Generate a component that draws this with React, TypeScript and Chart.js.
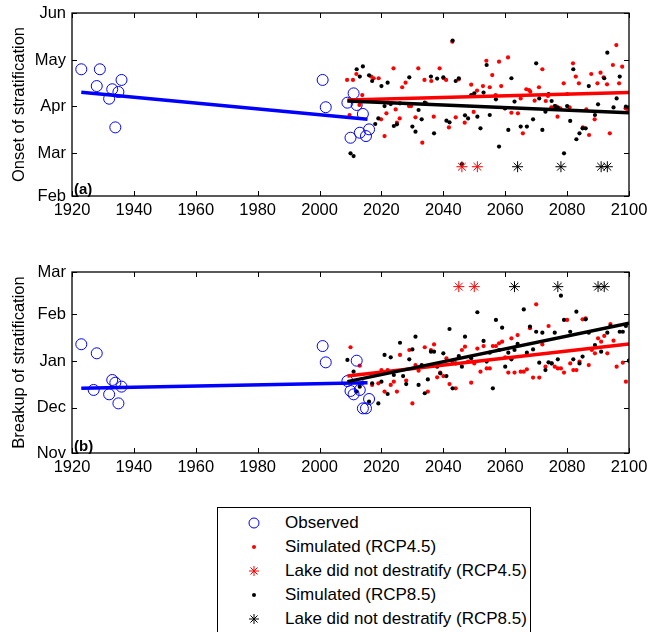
import React, { useEffect, useRef } from "react";
import { Chart, registerables } from "chart.js";
Chart.register(...registerables);

const FONT = '"Liberation Sans", Arial, Helvetica, sans-serif';

// ---------- DATA ----------
const xTicks = [1920, 1940, 1960, 1980, 2000, 2020, 2040, 2060, 2080, 2100];

// Panel (a): onset, day of year
const onsetTicks = [32, 60, 91, 121, 152];
const onsetLabels = ["Feb", "Mar", "Apr", "May", "Jun"];

const onsetObserved: [number, number][] = [
  [1923, 115.1], [1928, 104.1], [1929, 115.1], [1932, 95.8], [1933, 102.0], [1934, 77.0],
  [1935, 100.2], [1936, 108.1], [2001, 108.1], [2002, 90.2], [2009, 93.2], [2010, 70.2],
  [2011, 99.3], [2012, 91.7], [2013, 73.5], [2014, 85.8], [2015, 71.3], [2016, 75.7],
];

const onsetRcp45: [number, number][] = [
  [2008.9, 108.1], [2010.8, 108.1], [2011.9, 112.0], [2009.7, 85.1], [2012.9, 91.7], [2013.8, 98.2],
  [2016.7, 110.3], [2017.5, 109.2], [2019.1, 109.2], [2019.9, 82.3], [2021.0, 71.3], [2021.6, 86.2],
  [2022.1, 93.2], [2023.9, 115.7], [2024.6, 88.8], [2025.0, 80.1], [2025.9, 82.9], [2026.7, 103.3],
  [2027.8, 106.3], [2028.9, 91.0], [2029.6, 91.0], [2031.0, 83.6], [2031.9, 115.7], [2033.2, 67.0],
  [2033.9, 108.1], [2034.5, 92.8], [2036.1, 107.4], [2036.9, 84.0], [2038.8, 115.7], [2040.1, 109.2],
  [2040.9, 108.1], [2041.8, 77.0], [2042.9, 133.2], [2044.0, 83.6], [2045.0, 108.5], [2046.9, 80.1],
  [2049.0, 105.0], [2049.8, 87.1], [2050.9, 101.1], [2052.8, 104.1], [2053.9, 120.7], [2055.0, 103.3],
  [2055.8, 111.3], [2056.9, 98.2], [2058.0, 120.1], [2058.7, 104.1], [2059.8, 89.5], [2060.9, 122.9],
  [2062.0, 86.6], [2064.1, 86.2], [2065.0, 96.0], [2065.7, 73.1], [2066.8, 102.0], [2067.7, 101.5],
  [2068.1, 100.4], [2069.5, 94.5], [2070.9, 103.3], [2072.0, 115.1], [2073.1, 94.3], [2073.8, 97.6],
  [2074.9, 90.1], [2076.3, 91.0], [2076.9, 84.0], [2077.8, 89.5], [2078.9, 105.9], [2080.0, 98.9],
  [2080.8, 90.1], [2081.9, 119.0], [2082.8, 110.3], [2083.8, 105.9], [2085.1, 77.0], [2086.2, 88.8],
  [2087.1, 72.0], [2087.8, 112.0], [2088.9, 82.3], [2089.8, 105.9], [2090.8, 112.9], [2091.8, 109.8],
  [2092.9, 105.2], [2093.8, 73.1], [2094.8, 117.9], [2095.9, 131.0], [2096.8, 105.9], [2097.8, 116.8],
  [2098.9, 89.5], [2099.7, 88.4],
];

const onsetRcp85: [number, number][] = [
  [2010, 60.0], [2011, 58.2], [2012, 115.1], [2013, 110.3], [2014, 117.0], [2016, 111.1], [2017, 107.4],
  [2018, 79.2], [2019, 82.9], [2020, 104.1], [2021, 91.0], [2022, 106.3], [2023, 92.3], [2024, 77.9],
  [2025, 79.0], [2026, 92.8], [2029, 109.8], [2030, 77.5], [2031, 74.2], [2032, 88.4], [2033, 82.3],
  [2034, 93.2], [2036, 110.3], [2037, 73.1], [2038, 109.0], [2040, 109.8], [2041, 81.4], [2042, 80.3],
  [2043, 133.9], [2044, 107.4], [2045, 109.2], [2046, 53.0], [2047, 84.9], [2048, 82.9], [2049, 98.2],
  [2050, 99.3], [2051, 84.0], [2052, 76.4], [2053, 99.8], [2054, 117.9], [2055, 85.1], [2057, 95.4],
  [2058, 64.4], [2060, 89.5], [2061, 75.3], [2062, 109.2], [2063, 93.9], [2065, 77.5], [2067, 77.5],
  [2069, 82.3], [2070, 119.0], [2071, 96.0], [2072, 75.3], [2073, 87.3], [2074, 98.9], [2075, 94.3],
  [2076, 91.0], [2077, 90.1], [2079, 60.0], [2080, 91.0], [2081, 81.2], [2082, 115.1], [2083, 69.2],
  [2084, 73.1], [2085, 76.4], [2086, 76.4], [2087, 104.1], [2089, 85.1], [2090, 92.1], [2092, 109.2],
  [2093, 126.0], [2095, 90.1], [2096, 96.0], [2097, 110.3], [2099, 90.6], [2100, 90.1],
];

const onsetNoDestrat45Years = [2046, 2051];
const onsetNoDestrat85Years = [2064, 2078, 2091, 2093];
const onsetNoDestratLevel = 51.2;

const onsetTrendObserved: [number, number][] = [[1923, 100.0], [2015.5, 82.3]];
const onsetTrendRcp45: [number, number][] = [[2009, 95.0], [2100, 99.8]];
const onsetTrendRcp85: [number, number][] = [[2009, 94.3], [2100, 86.6]];

// Panel (b): breakup, days since 1 Nov
const breakupTicks = [0, 30, 61, 92, 120];
const breakupLabels = ["Nov", "Dec", "Jan", "Feb", "Mar"];

const breakupObserved: [number, number][] = [
  [1923, 72.1], [1927, 41.8], [1928, 66.1], [1932, 38.9], [1933, 48.4], [1934, 46.6],
  [1935, 32.9], [1936, 44.0], [2001, 70.9], [2002, 60.1], [2009, 47.7], [2010, 41.1],
  [2011, 38.9], [2012, 61.2], [2013, 41.8], [2014, 29.6], [2015, 29.6], [2016, 35.8],
];

const breakupRcp45: [number, number][] = [
  [2010, 70.1], [2013, 57.9], [2017, 45.1], [2019, 46.2], [2020, 55.0], [2021, 40.7], [2022, 55.0],
  [2023, 45.1], [2024, 47.3], [2025, 40.7], [2026, 65.0], [2028, 48.0], [2029, 68.3], [2030, 32.9],
  [2031, 58.3], [2032, 54.6], [2034, 70.1], [2035, 40.7], [2036, 68.3], [2037, 72.0], [2038, 50.2],
  [2039, 53.3], [2040, 51.0], [2041, 62.8], [2042, 45.7], [2043, 59.9], [2044, 42.9], [2045, 63.4],
  [2046, 68.3], [2047, 70.5], [2048, 60.6], [2049, 46.6], [2050, 59.4], [2051, 69.2], [2052, 53.9],
  [2053, 70.9], [2054, 56.1], [2055, 56.1], [2056, 70.9], [2057, 70.9], [2058, 72.7], [2059, 73.8],
  [2060, 63.4], [2061, 53.3], [2062, 76.0], [2063, 53.3], [2064, 78.2], [2065, 53.9], [2066, 53.9],
  [2067, 55.5], [2068, 82.7], [2069, 50.0], [2070, 98.6], [2071, 50.0], [2072, 72.0], [2073, 57.2],
  [2074, 84.2], [2075, 59.4], [2076, 57.2], [2077, 56.1], [2078, 56.1], [2079, 53.3], [2080, 88.2],
  [2081, 59.4], [2082, 55.0], [2083, 55.0], [2084, 60.6], [2085, 88.6], [2086, 89.3], [2087, 58.3],
  [2088, 68.3], [2089, 66.1], [2090, 76.0], [2091, 73.8], [2092, 77.6], [2093, 66.1], [2094, 85.5],
  [2095, 74.5], [2096, 57.2], [2098, 59.9], [2099, 47.3], [2100, 61.2],
];

const breakupRcp85: [number, number][] = [
  [2009, 61.7], [2011, 53.9], [2012, 40.7], [2013, 44.0], [2014, 46.6], [2016, 34.0], [2017, 46.2],
  [2019, 32.9], [2020, 47.3], [2021, 65.0], [2022, 39.1], [2023, 63.4], [2024, 51.7], [2026, 73.1],
  [2027, 51.0], [2028, 45.7], [2029, 62.1], [2030, 68.7], [2031, 77.1], [2032, 45.1], [2033, 58.3],
  [2034, 39.6], [2035, 48.8], [2036, 67.2], [2037, 67.2], [2038, 57.2], [2039, 52.8], [2040, 66.1],
  [2041, 51.0], [2042, 82.2], [2043, 42.9], [2044, 59.4], [2045, 64.3], [2046, 57.2], [2047, 77.1],
  [2049, 62.8], [2051, 93.3], [2053, 74.3], [2054, 60.6], [2055, 66.5], [2056, 42.9], [2057, 88.2],
  [2058, 68.3], [2059, 83.1], [2060, 57.2], [2061, 66.5], [2062, 62.1], [2063, 68.3], [2064, 72.3],
  [2066, 95.2], [2067, 66.5], [2068, 83.8], [2069, 68.7], [2070, 80.4], [2071, 59.9], [2072, 79.8],
  [2073, 55.0], [2074, 60.1], [2075, 59.4], [2076, 79.8], [2077, 62.1], [2078, 104.3], [2079, 88.2],
  [2081, 80.4], [2082, 62.1], [2083, 93.7], [2084, 59.4], [2085, 63.9], [2086, 88.6], [2087, 79.8],
  [2089, 71.6], [2091, 67.2], [2093, 79.8], [2094, 84.2], [2097, 80.4], [2098, 80.4], [2099, 84.2],
  [2100, 61.2],
];

const breakupNoDestrat45Years = [2045, 2050];
const breakupNoDestrat85Years = [2063, 2077, 2090, 2092];
const breakupNoDestratLevel = 110.3;

const breakupTrendObserved: [number, number][] = [[1923, 42.9], [2015.5, 46.6]];
const breakupTrendRcp45: [number, number][] = [[2009, 51.1], [2100, 72.3]];
const breakupTrendRcp85: [number, number][] = [[2009, 47.3], [2100, 86.0]];

// ---------- CHART HELPERS ----------
const pts = (arr: [number, number][]) => arr.map(([x, y]) => ({ x, y }));
const starPts = (years: number[], level: number) => years.map((x) => ({ x, y: level }));

const boxPlugin = {
  id: "matlabBox",
  afterDraw(chart: any, _args: any, opts: any) {
    const { ctx, chartArea } = chart;
    const { left, right, top, bottom } = chartArea;
    const xs = chart.scales.x;
    const ys = chart.scales.y;
    ctx.save();
    ctx.strokeStyle = "#000";
    ctx.lineWidth = 1.3;
    ctx.strokeRect(left, top, right - left, bottom - top);
    const L = 5;
    ctx.beginPath();
    xs.ticks.forEach((t: any) => {
      const p = Math.round(xs.getPixelForValue(t.value)) + 0.5;
      ctx.moveTo(p, bottom);
      ctx.lineTo(p, bottom - L);
      ctx.moveTo(p, top);
      ctx.lineTo(p, top + L);
    });
    ys.ticks.forEach((t: any) => {
      const p = Math.round(ys.getPixelForValue(t.value)) + 0.5;
      ctx.moveTo(left, p);
      ctx.lineTo(left + L, p);
      ctx.moveTo(right, p);
      ctx.lineTo(right - L, p);
    });
    ctx.lineWidth = 1;
    ctx.stroke();
    if (opts && opts.label) {
      ctx.fillStyle = "#000";
      ctx.font = `bold 15px ${FONT}`;
      ctx.textBaseline = "alphabetic";
      ctx.textAlign = "left";
      ctx.fillText(opts.label, left + 2, bottom - 2);
    }
    ctx.restore();
  },
};

type PanelProps = {
  label: string;
  yTitle: string;
  yMin: number;
  yMax: number;
  yTicks: number[];
  yLabels: string[];
  observed: [number, number][];
  rcp45: [number, number][];
  rcp85: [number, number][];
  star45: number[];
  star85: number[];
  starLevel: number;
  trendObs: [number, number][];
  trend45: [number, number][];
  trend85: [number, number][];
  height: number;
  padTop: number;
  xHeight: number;
};

function Panel(p: PanelProps) {
  const ref = useRef<HTMLCanvasElement | null>(null);
  useEffect(() => {
    if (!ref.current) return;
    const tickFont = { family: FONT, size: 16.5 };
    const chart = new Chart(ref.current, {
      type: "scatter",
      data: {
        datasets: [
          {
            data: pts(p.trend85), showLine: true, borderColor: "#000", borderWidth: 3.5,
            pointRadius: 0, order: 0,
          } as any,
          {
            data: pts(p.trend45), showLine: true, borderColor: "#ff0000", borderWidth: 3.5,
            pointRadius: 0, order: 1,
          },
          {
            data: pts(p.trendObs), showLine: true, borderColor: "#0000ff", borderWidth: 3.5,
            pointRadius: 0, order: 2,
          },
          {
            data: pts(p.observed), pointStyle: "circle", pointRadius: 5.5, borderColor: "#0000ff",
            backgroundColor: "rgba(0,0,0,0)", borderWidth: 1, order: 3,
          },
          {
            data: starPts(p.star85, p.starLevel), pointStyle: "star", pointRadius: 5.5,
            borderColor: "#000", borderWidth: 1, order: 4,
          },
          {
            data: starPts(p.star45, p.starLevel), pointStyle: "star", pointRadius: 5.5,
            borderColor: "#ff0000", borderWidth: 1, order: 5,
          },
          {
            data: pts(p.rcp85), pointStyle: "circle", pointRadius: 2.1, backgroundColor: "#000",
            borderWidth: 0, order: 6,
          },
          {
            data: pts(p.rcp45), pointStyle: "circle", pointRadius: 2.1, backgroundColor: "#ff0000",
            borderWidth: 0, order: 7,
          },
        ],
      },
      options: {
        animation: false,
        responsive: false,
        devicePixelRatio: 1,
        events: [],
        layout: { padding: { top: p.padTop, right: 19, left: 0, bottom: 0 } },
        plugins: {
          legend: { display: false },
          tooltip: { enabled: false },
          matlabBox: { label: p.label },
        } as any,
        scales: {
          x: {
            type: "linear",
            min: 1920,
            max: 2100,
            afterBuildTicks: (s: any) => {
              s.ticks = xTicks.map((v) => ({ value: v }));
            },
            ticks: {
              callback: (v: any) => String(v),
              color: "#000",
              font: tickFont,
              padding: 5,
              maxRotation: 0,
              autoSkip: false,
            },
            grid: { display: false, drawTicks: false },
            border: { display: false },
            afterFit: (s: any) => {
              s.height = p.xHeight;
              s.paddingLeft = 0;
              s.paddingRight = 0;
            },
          },
          y: {
            type: "linear",
            min: p.yMin,
            max: p.yMax,
            afterBuildTicks: (s: any) => {
              s.ticks = p.yTicks.map((v) => ({ value: v }));
            },
            ticks: {
              callback: (v: any) => p.yLabels[p.yTicks.indexOf(Number(v))],
              color: "#000",
              font: tickFont,
              padding: 6,
              autoSkip: false,
            },
            grid: { display: false, drawTicks: false },
            border: { display: false },
            title: {
              display: true,
              text: p.yTitle,
              color: "#000",
              font: { family: FONT, size: 16.5 },
              padding: { top: 10, bottom: 0 },
            },
            afterFit: (s: any) => {
              s.width = 72;
              s.paddingTop = 0;
              s.paddingBottom = 0;
            },
          },
        },
      } as any,
      plugins: [boxPlugin as any],
    });
    return () => chart.destroy();
  }, []);
  return <canvas ref={ref} width={648} height={p.height} style={{ display: "block", width: 648, height: p.height }} />;
}

function Star({ color }: { color: string }) {
  const r = 5;
  const d = r * 0.707;
  return (
    <g stroke={color} strokeWidth={1}>
      <line x1={-r} y1={0} x2={r} y2={0} />
      <line x1={0} y1={-r} x2={0} y2={r} />
      <line x1={-d} y1={-d} x2={d} y2={d} />
      <line x1={-d} y1={d} x2={d} y2={-d} />
    </g>
  );
}

const legendItems = [
  { text: "Observed", marker: "circle", color: "#0000ff" },
  { text: "Simulated (RCP4.5)", marker: "dot", color: "#ff0000" },
  { text: "Lake did not destratify (RCP4.5)", marker: "star", color: "#ff0000" },
  { text: "Simulated (RCP8.5)", marker: "dot", color: "#000" },
  { text: "Lake did not destratify (RCP8.5)", marker: "star", color: "#000" },
];

function Legend() {
  const rowCenters = [522, 546, 570, 594, 618];
  return (
    <div
      style={{
        position: "absolute",
        left: 217,
        top: 507,
        width: 314,
        height: 160,
        border: "1px solid #000",
        background: "#fff",
        boxSizing: "border-box",
      }}
    >
      {legendItems.map((it, i) => {
        const cy = rowCenters[i] - 507;
        return (
          <React.Fragment key={i}>
            <svg
              width={20}
              height={20}
              style={{ position: "absolute", left: 253 - 217 - 10, top: cy - 10 }}
            >
              <g transform="translate(10,10)">
                {it.marker === "circle" && <circle r={5} fill="none" stroke={it.color} strokeWidth={1} />}
                {it.marker === "dot" && <circle r={2} fill={it.color} />}
                {it.marker === "star" && <Star color={it.color} />}
              </g>
            </svg>
            <div
              style={{
                position: "absolute",
                left: 284 - 217,
                top: cy - 12,
                height: 24,
                lineHeight: "24px",
                fontFamily: FONT,
                fontSize: 17,
                color: "#000",
                whiteSpace: "nowrap",
              }}
            >
              {it.text}
            </div>
          </React.Fragment>
        );
      })}
    </div>
  );
}

export default function App() {
  return (
    <div
      style={{
        position: "fixed",
        left: 0,
        top: 0,
        width: 648,
        height: 632,
        overflow: "hidden",
        background: "#fff",
      }}
    >
      <div style={{ position: "absolute", left: 0, top: 0 }}>
        <Panel
          label="(a)"
          yTitle="Onset of stratification"
          yMin={32}
          yMax={152}
          yTicks={onsetTicks}
          yLabels={onsetLabels}
          observed={onsetObserved}
          rcp45={onsetRcp45}
          rcp85={onsetRcp85}
          star45={onsetNoDestrat45Years}
          star85={onsetNoDestrat85Years}
          starLevel={onsetNoDestratLevel}
          trendObs={onsetTrendObserved}
          trend45={onsetTrendRcp45}
          trend85={onsetTrendRcp85}
          height={240}
          padTop={13}
          xHeight={44}
        />
      </div>
      <div style={{ position: "absolute", left: 0, top: 240 }}>
        <Panel
          label="(b)"
          yTitle="Breakup of stratification"
          yMin={0}
          yMax={120}
          yTicks={breakupTicks}
          yLabels={breakupLabels}
          observed={breakupObserved}
          rcp45={breakupRcp45}
          rcp85={breakupRcp85}
          star45={breakupNoDestrat45Years}
          star85={breakupNoDestrat85Years}
          starLevel={breakupNoDestratLevel}
          trendObs={breakupTrendObserved}
          trend45={breakupTrendRcp45}
          trend85={breakupTrendRcp85}
          height={250}
          padTop={32}
          xHeight={37}
        />
      </div>
      <Legend />
    </div>
  );
}
